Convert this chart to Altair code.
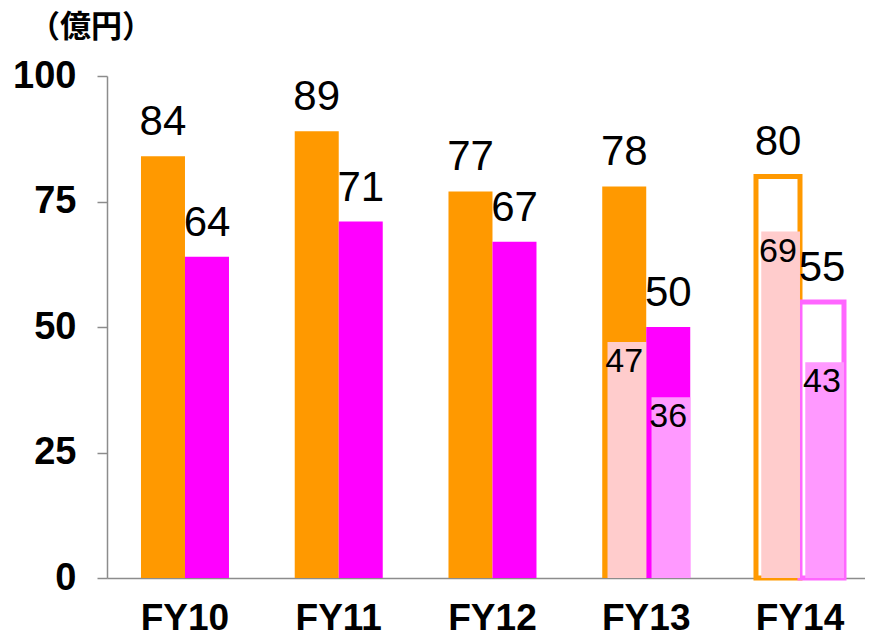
import altair as alt
import pandas as pd

years = ["FY10", "FY11", "FY12", "FY13", "FY14"]
total_a = [84, 89, 77, 78, 80]
total_b = [64, 71, 67, 50, 55]
inner_years = ["FY13", "FY14"]
inner_a = [47, 69]
inner_b = [36, 43]
y_ticks = [0, 25, 50, 75, 100]
unit_label = "（億円）"

outer = pd.DataFrame(
    [{"year": y, "series": "A", "v": v} for y, v in zip(years, total_a)]
    + [{"year": y, "series": "B", "v": v} for y, v in zip(years, total_b)]
)
inner = pd.DataFrame(
    [{"year": y, "series": "A", "v": v} for y, v in zip(inner_years, inner_a)]
    + [{"year": y, "series": "B", "v": v} for y, v in zip(inner_years, inner_b)]
)

FONT = "Liberation Sans"

x_enc = alt.X(
    "year:N",
    scale=alt.Scale(domain=years, paddingInner=0.4276, paddingOuter=0.1788, align=0.618),
    axis=alt.Axis(
        title=None, labelAngle=0, ticks=False, tickSize=0, labelPadding=22,
        labelFontSize=37, labelFont=FONT, labelFontWeight="bold", labelColor="black",
        domainColor="#8c8c8c", domainWidth=1.5,
    ),
)
xo_enc = alt.XOffset("series:N", scale=alt.Scale(domain=["A", "B"], paddingInner=0, paddingOuter=0))
y_enc = alt.Y(
    "v:Q",
    scale=alt.Scale(domain=[0, 100], nice=False),
    axis=alt.Axis(
        title=None, values=y_ticks, grid=False, tickSize=10, labelPadding=21,
        labelFontSize=38, labelFont=FONT, labelFontWeight="bold", labelColor="black",
        domainColor="#8c8c8c", domainWidth=1.5, tickColor="#8c8c8c", tickWidth=1.5,
    ),
)

is14 = "datum.year == 'FY14'"

outer_bars = alt.Chart(outer).mark_bar().encode(
    x=x_enc,
    xOffset=xo_enc,
    y=y_enc,
    fill=alt.condition(
        is14,
        alt.value("white"),
        alt.Fill("series:N", scale=alt.Scale(domain=["A", "B"], range=["#FF9900", "#FF00FF"]), legend=None),
    ),
    stroke=alt.Stroke("series:N", scale=alt.Scale(domain=["A", "B"], range=["#FF9900", "#FF66FF"]), legend=None),
    strokeWidth=alt.condition(is14, alt.value(5), alt.value(0)),
)

inner_bars = alt.Chart(inner).mark_bar(width=alt.RelativeBandSize(0.88)).encode(
    x=x_enc,
    xOffset=xo_enc,
    y=y_enc,
    fill=alt.Fill("series:N", scale=alt.Scale(domain=["A", "B"], range=["#FFCCCC", "#FF99FF"]), legend=None),
)

outer_text = alt.Chart(outer).mark_text(
    baseline="alphabetic", dy=-21, fontSize=42, font=FONT, color="black"
).encode(x=x_enc, xOffset=xo_enc, y=y_enc, text=alt.Text("v:Q"))

inner_text = alt.Chart(inner).mark_text(
    baseline="alphabetic", dy=30, fontSize=34, font=FONT, color="black"
).encode(x=x_enc, xOffset=xo_enc, y=y_enc, text=alt.Text("v:Q"))

unit_text = alt.Chart(pd.DataFrame({"t": [unit_label]})).mark_text(
    align="left", baseline="alphabetic", font="Noto Sans CJK JP", fontSize=31,
    fontWeight="bold", color="black",
).encode(x=alt.value(-78), y=alt.value(-39), text="t:N")

chart = (
    alt.layer(outer_bars, inner_bars, outer_text, inner_text, unit_text)
    .resolve_scale(fill="independent", stroke="independent")
    .properties(
        width=758,
        height=502,
        autosize=alt.AutoSizeParams(type="none"),
        padding={"left": 99, "top": 68, "right": 0, "bottom": 60},
    )
    .configure_view(stroke=None)
)

chart.save("out.html", embed_options={"renderer": "svg", "actions": False})
